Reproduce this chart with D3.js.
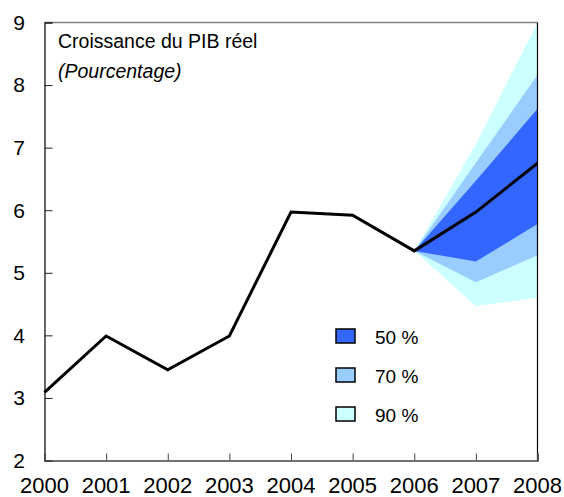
<!DOCTYPE html>
<html>
<head>
<meta charset="utf-8">
<script src="https://cdn.jsdelivr.net/npm/d3@7"></script>
<style>
  html, body { margin: 0; padding: 0; background: #fff; }
  svg { display: block; font-family: "Liberation Sans", Arial, sans-serif; }
</style>
</head>
<body>
<svg id="chart" width="564" height="497"></svg>
<script>
// ---- data ----
const years = [2000, 2001, 2002, 2003, 2004, 2005, 2006, 2007, 2008];
const gdpGrowth = [3.09, 3.99, 3.45, 3.99, 5.97, 5.92, 5.35, 5.97, 6.75];

const fanYears = [2006, 2007, 2008];
const band90Upper = [5.35, 7.06, 9.0];
const band90Lower = [5.35, 4.47, 4.60];
const band70Upper = [5.35, 6.76, 8.16];
const band70Lower = [5.35, 4.85, 5.28];
const band50Upper = [5.35, 6.47, 7.62];
const band50Lower = [5.35, 5.18, 5.78];

const yTicks = [2, 3, 4, 5, 6, 7, 8, 9];
const legendLabels = ["50 %", "70 %", "90 %"];
const legendColors = ["#3366FF", "#99CCFF", "#CCFFFF"];
const titleText = "Croissance du PIB réel";
const subtitleText = "(Pourcentage)";

// ---- layout ----
const svg = d3.select("#chart");
const pLeft = 44.5, pRight = 537.5, pTop = 22.5, pBottom = 460.5;

const x = d3.scaleLinear().domain([2000, 2008]).range([pLeft, pRight]);
const y = d3.scaleLinear().domain([2, 9]).range([pBottom, pTop]);

// fan bands (widest first)
const bands = [
  { up: band90Upper, lo: band90Lower, color: legendColors[2] },
  { up: band70Upper, lo: band70Lower, color: legendColors[1] },
  { up: band50Upper, lo: band50Lower, color: legendColors[0] }
];
const area = d3.area()
  .x(d => x(d.year))
  .y0(d => y(d.lo))
  .y1(d => y(d.up));
bands.forEach(b => {
  const pts = fanYears.map((yr, i) => ({ year: yr, up: b.up[i], lo: b.lo[i] }));
  svg.append("path").attr("d", area(pts)).attr("fill", b.color);
});

// frame
svg.append("line").attr("x1", pLeft).attr("x2", pRight).attr("y1", pTop).attr("y2", pTop)
  .attr("stroke", "#808080").attr("stroke-width", 1.5);
svg.append("line").attr("x1", pRight).attr("x2", pRight).attr("y1", pTop).attr("y2", pBottom)
  .attr("stroke", "#000").attr("stroke-width", 1.2);

// y axis (ticks inside)
const yAxis = d3.axisRight(y).tickValues(yTicks).tickSize(8).tickFormat("");
const gy = svg.append("g").attr("transform", `translate(${pLeft},0)`).call(yAxis);
gy.select(".domain").attr("stroke", "#000").attr("stroke-width", 1.2);
gy.selectAll(".tick line").attr("stroke", "#222");
svg.append("g").selectAll("text").data(yTicks).join("text")
  .attr("x", 25).attr("y", d => y(d)).attr("dy", "0.35em")
  .attr("text-anchor", "end").attr("font-size", 21).attr("fill", "#000")
  .text(d => d);

// x axis (ticks inside)
const xAxis = d3.axisTop(x).tickValues(years).tickSize(7).tickFormat("");
const gx = svg.append("g").attr("transform", `translate(0,${pBottom})`).call(xAxis);
gx.select(".domain").attr("stroke", "#444").attr("stroke-width", 1.5);
gx.selectAll(".tick line").attr("stroke", "#444");
svg.append("g").selectAll("text").data(years).join("text")
  .attr("x", d => x(d)).attr("y", 493)
  .attr("text-anchor", "middle").attr("font-size", 22).attr("fill", "#000")
  .text(d => d);

// GDP line
const line = d3.line().x((d, i) => x(years[i])).y(d => y(d));
svg.append("path").datum(gdpGrowth).attr("d", line)
  .attr("fill", "none").attr("stroke", "#000").attr("stroke-width", 3)
  .attr("stroke-linejoin", "miter");

// titles
svg.append("text").attr("x", 58).attr("y", 48).attr("font-size", 19.5).attr("fill", "#000").text(titleText);
svg.append("text").attr("x", 58).attr("y", 78).attr("font-size", 19.5).attr("font-style", "italic")
  .attr("fill", "#000").text(subtitleText);

// legend
const lg = svg.append("g").selectAll("g").data(legendLabels).join("g")
  .attr("transform", (d, i) => `translate(336,${329 + i * 39})`);
lg.append("rect").attr("width", 19).attr("height", 14)
  .attr("fill", (d, i) => legendColors[i]).attr("stroke", "#000").attr("stroke-width", 1.5);
lg.append("text").attr("x", 39).attr("y", 15).attr("font-size", 19).attr("fill", "#000").text(d => d);
</script>
</body>
</html>
